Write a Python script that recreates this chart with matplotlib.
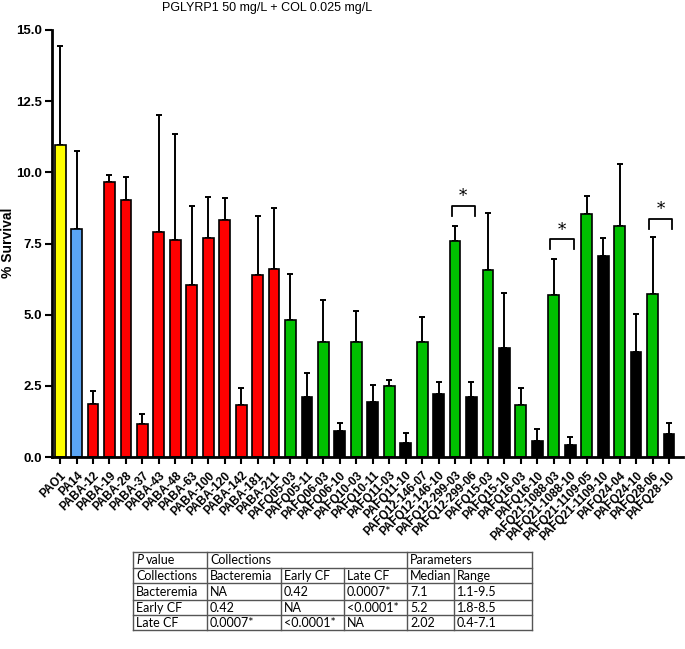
import matplotlib
matplotlib.use('Agg')
import matplotlib.pyplot as plt
import numpy as np

plt.rcParams['font.family'] = ['Liberation Sans', 'DejaVu Sans']

strains = ['PAO1', 'PA14', 'PABA-12', 'PABA-19', 'PABA-28', 'PABA-37', 'PABA-43',
           'PABA-48', 'PABA-63', 'PABA-100', 'PABA-120', 'PABA-142', 'PABA-181',
           'PABA-211', 'PAFQ05-03', 'PAFQ05-11', 'PAFQ06-03', 'PAFQ06-10',
           'PAFQ10-03', 'PAFQ10-11', 'PAFQ11-03', 'PAFQ11-10', 'PAFQ12-146-07',
           'PAFQ12-146-10', 'PAFQ12-299-03', 'PAFQ12-299-06', 'PAFQ15-03',
           'PAFQ15-10', 'PAFQ16-03', 'PAFQ16-10', 'PAFQ21-1088-03',
           'PAFQ21-1088-10', 'PAFQ21-1109-05', 'PAFQ21-1109-10', 'PAFQ24-04',
           'PAFQ24-10', 'PAFQ28-06', 'PAFQ28-10']
survival = [10.95, 8.0, 1.88, 9.66, 9.02, 1.16, 7.92, 7.62, 6.04, 7.68, 8.32, 1.83,
            6.41, 6.61, 4.8, 2.11, 4.05, 0.93, 4.05, 1.93, 2.5, 0.5, 4.03, 2.2,
            7.6, 2.1, 6.58, 3.83, 1.84, 0.56, 5.68, 0.42, 8.52, 7.06, 8.13, 3.7,
            5.74, 0.8]
upper = [14.45, 10.75, 2.32, 9.92, 9.85, 1.5, 12.03, 11.33, 8.82, 9.12, 9.1, 2.42,
         8.48, 8.74, 6.42, 2.96, 5.5, 1.19, 5.14, 2.52, 2.72, 0.83, 4.93, 2.63,
         8.12, 2.63, 8.58, 5.76, 2.42, 0.98, 6.95, 0.69, 9.17, 7.68, 10.3, 5.02,
         7.72, 1.19]
group = ['ref1', 'ref2'] + ['bact'] * 12 + ['early', 'late'] * 12
group_colors = {'ref1': '#ffff00', 'ref2': '#5aa5f5', 'bact': '#ff0000',
                'early': '#00c000', 'late': '#000000'}

# significant pairs: (left bar index, bracket height)
sig_pairs = [(24, 8.83), (30, 7.65), (36, 8.36)]

table_rows = [
    ['P value', 'Collections', '', '', 'Parameters', ''],
    ['Collections', 'Bacteremia', 'Early CF', 'Late CF', 'Median', 'Range'],
    ['Bacteremia', 'NA', '0.42', '0.0007*', '7.1', '1.1-9.5'],
    ['Early CF', '0.42', 'NA', '<0.0001*', '5.2', '1.8-8.5'],
    ['Late CF', '0.0007*', '<0.0001*', 'NA', '2.02', '0.4-7.1'],
]

fig = plt.figure(figsize=(6.85, 6.49), dpi=100)
ax = fig.add_axes([0.076, 0.2958, 0.921, 0.658])

x = np.arange(len(strains))
mean = np.array(survival)
err = np.array(upper) - mean
colors = [group_colors[g] for g in group]
ax.bar(x, mean, width=0.66, color=colors, edgecolor='black', linewidth=1.2, zorder=2)
ax.errorbar(x, mean, yerr=[np.zeros_like(err), err], fmt='none', ecolor='black',
            elinewidth=1.4, capsize=2.5, capthick=1.4, zorder=1)

for i, h in sig_pairs:
    ax.plot([i - 0.2, i - 0.2, i + 1.2, i + 1.2], [h - 0.35, h, h, h - 0.35],
            color='black', lw=1.3)
    ax.text(i + 0.5, h + 0.02, '*', ha='center', va='bottom', fontsize=12,
            family='DejaVu Serif')

ax.set_xlim(-0.49, 37.85)
ax.set_ylim(0, 15)
ax.set_yticks(np.arange(0, 15.1, 2.5))
ax.set_yticklabels(['%.1f' % v for v in np.arange(0, 15.1, 2.5)], fontweight='bold',
                   fontsize=9.5)
ax.set_xticks(x)
ax.set_xticklabels(strains, rotation=45, ha='right', va='top', rotation_mode='anchor',
                   fontweight='bold', fontsize=8.5)
ax.tick_params(axis='both', direction='out', length=5, width=1.5, pad=2)
ax.tick_params(axis='x', pad=4)
for side in ['top', 'right']:
    ax.spines[side].set_visible(False)
for side in ['left', 'bottom']:
    ax.spines[side].set_linewidth(2)
fig.text(8 / 685, 1 - 243 / 649, '% Survival', rotation=90, ha='center', va='center',
         fontweight='bold', fontsize=10)

fig.text(0.39, 0.987, 'PGLYRP1 50 mg/L + COL 0.025 mg/L', ha='center', va='center',
         fontsize=9)

# table drawn by hand (merged header cells)
tax = fig.add_axes([133 / 685, 1 - 630 / 649, (532 - 133) / 685, (630 - 552) / 649])
col_edges = [133, 207, 281, 344, 407, 454, 532]
row_edges = [552, 568, 583, 600, 615, 630]
tax.set_xlim(133, 532)
tax.set_ylim(630, 552)
tax.axis('off')
lc = '#555555'
fs = 9
for r in range(len(table_rows)):
    y0, y1 = row_edges[r], row_edges[r + 1]
    yc = (y0 + y1) / 2 + 0.5
    for c in range(len(table_rows[r])):
        txt = table_rows[r][c]
        if txt == '':
            continue
        if r == 0 and c == 0:
            tax.text(col_edges[c] + 3, yc, 'P', fontstyle='italic',
                     ha='left', va='center', fontsize=fs, family='Lato')
            tax.text(col_edges[c] + 13, yc, 'value', ha='left',
                     va='center', fontsize=fs, family='Lato')
            continue
        tax.text(col_edges[c] + 3, yc, txt, ha='left', va='center',
                 fontsize=fs, family='Lato')
# horizontal lines
for y in row_edges:
    tax.plot([col_edges[0], col_edges[-1]], [y, y], color=lc, lw=1, clip_on=False)
# vertical lines
for c, xv in enumerate(col_edges):
    if c in (2, 3, 5):
        tax.plot([xv, xv], [row_edges[1], row_edges[-1]], color=lc, lw=1, clip_on=False)
    else:
        tax.plot([xv, xv], [row_edges[0], row_edges[-1]], color=lc, lw=1, clip_on=False)

fig.savefig('out.png', dpi=100)
